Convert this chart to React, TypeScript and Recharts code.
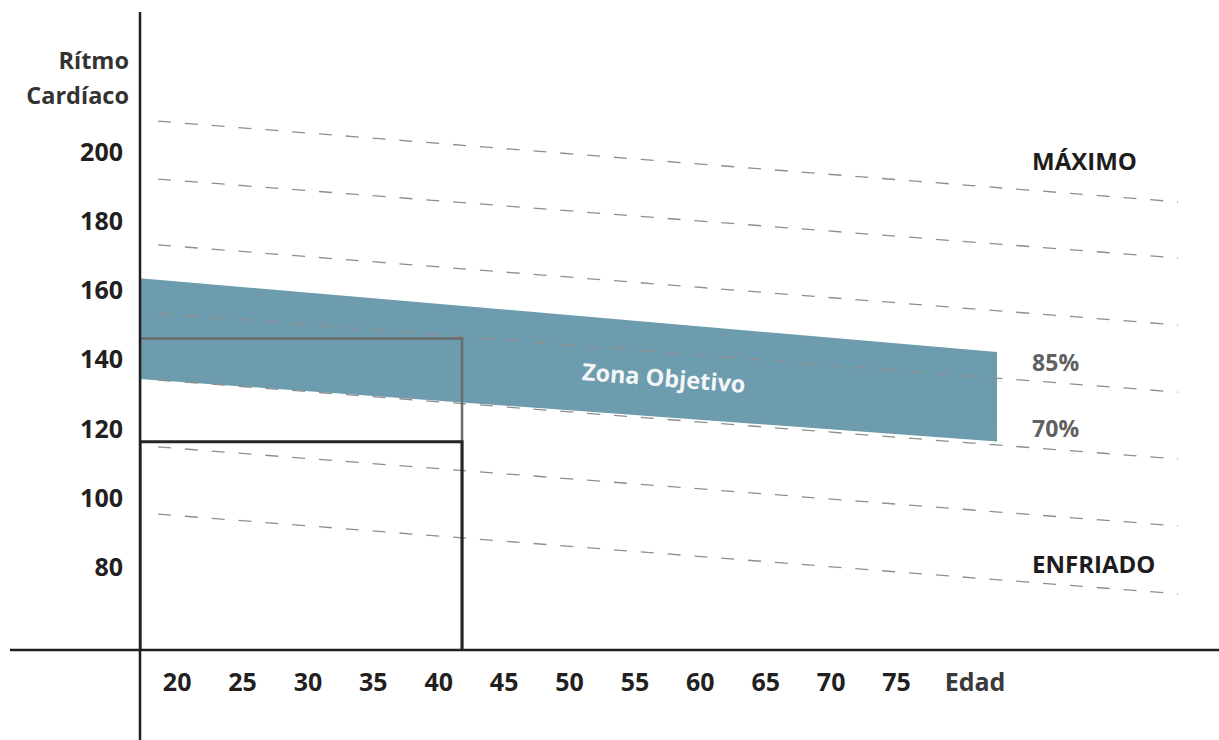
import React from "react";
import { ComposedChart, XAxis, YAxis, Area, Line, ReferenceLine, ReferenceDot } from "recharts";

// axis ticks
const ageTicks = [20, 25, 30, 35, 40, 45, 50, 55, 60, 65, 70, 75];
const ageTitle = "Edad";
const ageTitleAt = 81;
const hrTicks = [80, 100, 120, 140, 160, 180, 200];

// dashed guide lines: heart rate at the left end and at the right end
const guideAges = [18.54, 96.52];
const guideStart = [208.8, 192.1, 173.1, 153.4, 134.1, 114.8, 95.4];
const guideEnd = [185.5, 169.3, 150.0, 130.6, 111.3, 92.0, 72.4];

// target zone band (low / high heart rate)
const zoneAges = [17.16, 82.68];
const zoneLow = [134.4, 116.4];
const zoneHigh = [163.5, 142.2];

// example boxes
const boxAge = 41.78;
const boxOuterTop = 146.1;
const boxInnerTop = 116.3;

const AGE_MIN = 17.16;
const AGE_MAX = 99.65;
const HR_MIN = 56.2;
const HR_MAX = 240.3;

const FONT = "'Open Sans', sans-serif";
const DARK = "#231f20";

const guideData = guideAges.map((age, i) => {
  const row: Record<string, number> = { age };
  guideStart.forEach((v, k) => {
    row["g" + k] = i === 0 ? v : guideEnd[k];
  });
  return row;
});

const zoneData = zoneAges.map((age, i) => ({ age, range: [zoneLow[i], zoneHigh[i]] }));

const boxData = (top: number) => [
  { age: AGE_MIN, hr: HR_MIN },
  { age: AGE_MIN, hr: top },
  { age: boxAge, hr: top },
  { age: boxAge, hr: HR_MIN },
];

const textLabel = (text: string, color: string, size = 24, anchor = "start", rotate = 0) => (props: any) => {
  const { x, y } = props.viewBox;
  return (
    <text
      x={x}
      y={y}
      dy="0.36em"
      textAnchor={anchor}
      fill={color}
      fontFamily={FONT}
      fontWeight={700}
      fontSize={size}
      transform={rotate ? `rotate(${rotate}, ${x}, ${y})` : undefined}
    >
      {text}
    </text>
  );
};

const yTitle = (props: any) => {
  const { x, y } = props.viewBox;
  return (
    <text x={x - 11} textAnchor="end" fill="#333333" fontFamily={FONT} fontWeight={700} fontSize={23.5}>
      <tspan x={x - 11} y={y - 17.2} dy="0.36em">Rítmo</tspan>
      <tspan x={x - 11} y={y + 17.3} dy="0.36em">Cardíaco</tspan>
    </text>
  );
};

const AgeTick = (props: any) => {
  const { x, y, payload } = props;
  const isTitle = payload.value === ageTitleAt;
  return (
    <text x={x} y={y} dy="0.71em" textAnchor="middle" fill={isTitle ? "#3a3a3a" : DARK} fontFamily={FONT} fontWeight={700} fontSize={25}>
      {isTitle ? ageTitle : payload.value}
    </text>
  );
};

export default function App() {
  return (
    <div style={{ position: "absolute", left: 0, top: 0, width: 1219, height: 740, background: "#ffffff", fontFamily: FONT }}>
      <ComposedChart width={1219} height={740} margin={{ top: 12, right: 0, bottom: 0, left: 10 }}>
        <XAxis
          type="number"
          dataKey="age"
          domain={[AGE_MIN, AGE_MAX]}
          allowDataOverflow
          ticks={[...ageTicks, ageTitleAt]}
          tick={<AgeTick />}
          tickLine={false}
          axisLine={false}
          tickSize={0}
          tickMargin={23}
          height={90}
        />
        <YAxis
          type="number"
          domain={[HR_MIN, HR_MAX]}
          allowDataOverflow
          ticks={hrTicks}
          tickLine={false}
          axisLine={false}
          tickSize={0}
          tickMargin={17}
          width={130}
          tick={{ fill: DARK, fontFamily: FONT, fontWeight: 700, fontSize: 25 }}
        />
        <Area
          data={zoneData}
          dataKey="range"
          type="linear"
          stroke="none"
          fill="#6d9cae"
          fillOpacity={1}
          isAnimationActive={false}
        />
        {guideStart.map((_, k) => (
          <Line
            key={k}
            data={guideData}
            dataKey={"g" + k}
            type="linear"
            stroke="#8e8e8e"
            strokeWidth={1.3}
            strokeDasharray="13 13.9"
            dot={false}
            activeDot={false}
            isAnimationActive={false}
          />
        ))}
        <Line
          data={boxData(boxOuterTop)}
          dataKey="hr"
          type="linear"
          stroke="#6b6b6b"
          strokeWidth={2.5}
          dot={false}
          activeDot={false}
          isAnimationActive={false}
        />
        <Line
          data={boxData(boxInnerTop)}
          dataKey="hr"
          type="linear"
          stroke="#262626"
          strokeWidth={3}
          dot={false}
          activeDot={false}
          isAnimationActive={false}
        />
        <ReferenceLine
          segment={[{ x: AGE_MIN, y: 30.2 }, { x: AGE_MIN, y: HR_MAX }]}
          stroke={DARK}
          strokeWidth={2.5}
          ifOverflow="visible"
        />
        <ReferenceLine
          segment={[{ x: 7.22, y: HR_MIN }, { x: AGE_MAX, y: HR_MIN }]}
          stroke={DARK}
          strokeWidth={2.5}
          ifOverflow="visible"
        />
        <ReferenceDot x={AGE_MIN} y={221.2} r={0} fill="none" stroke="none" ifOverflow="visible" label={yTitle} />
        <ReferenceDot x={85.36} y={197.3} r={0} fill="none" stroke="none" ifOverflow="visible" label={textLabel("MÁXIMO", "#1f1c1d")} />
        <ReferenceDot x={85.36} y={139.0} r={0} fill="none" stroke="none" ifOverflow="visible" label={textLabel("85%", "#5f6163", 23)} />
        <ReferenceDot x={85.36} y={120.0} r={0} fill="none" stroke="none" ifOverflow="visible" label={textLabel("70%", "#5f6163", 23)} />
        <ReferenceDot x={85.36} y={80.9} r={0} fill="none" stroke="none" ifOverflow="visible" label={textLabel("ENFRIADO", "#1f1c1d")} />
        <ReferenceDot x={57.2} y={134.7} r={0} fill="none" stroke="none" ifOverflow="visible" label={textLabel("Zona Objetivo", "#f4f6f7", 23.5, "middle", 4.5)} />
      </ComposedChart>
    </div>
  );
}
